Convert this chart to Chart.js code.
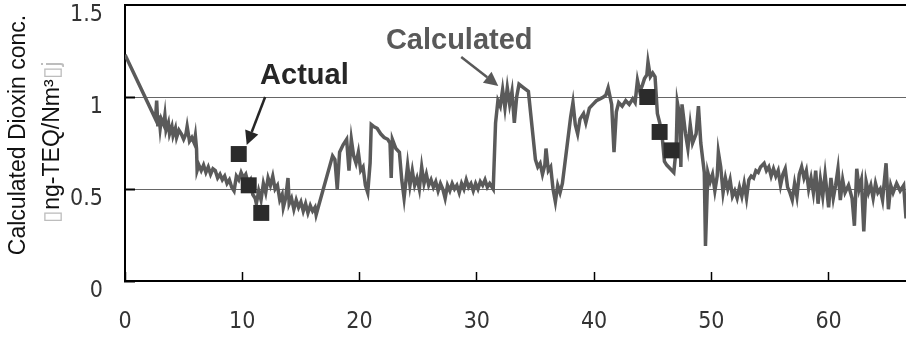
<!DOCTYPE html>
<html>
<head>
<meta charset="utf-8">
<script src="https://cdn.jsdelivr.net/npm/chart.js@4/dist/chart.umd.min.js"></script>
<style>
  html, body { margin: 0; background: #fff; }
  #chart { display: block; }
</style>
</head>
<body>
<canvas id="chart" width="906" height="337"></canvas>
<script>
"use strict";
const $ = id => document.getElementById(id);

/* ---------- data ---------- */
const hours = [
  0, 2.6, 2.7, 2.8, 2.9, 3.0, 3.1, 3.3, 3.4, 3.5,
  3.7, 3.8, 4.0, 4.1, 4.3, 4.4, 4.6, 4.8, 5.0, 5.2,
  5.3, 5.5, 5.7, 5.9, 6.0, 6.1, 6.15, 6.3, 6.5, 6.7,
  6.9, 7.1, 7.3, 7.5, 7.7, 7.9, 8.1, 8.3, 8.5, 8.7,
  8.9, 9.1, 9.3, 9.5, 9.7, 9.9, 10.1, 10.3, 10.5, 10.7,
  10.9, 11.1, 11.2, 11.4, 11.6, 11.8, 12.0, 12.2, 12.4, 12.6,
  12.8, 13.0, 13.2, 13.4, 13.5, 13.7, 13.9, 14.0, 14.2, 14.4,
  14.6, 14.8, 15.0, 15.2, 15.4, 15.6, 15.8, 16.0, 16.2, 16.3,
  17.7, 17.9, 18.1, 18.3, 18.6, 18.9, 19.1, 19.3, 19.5, 19.7,
  19.9, 20.1, 20.3, 20.5, 20.7, 20.9, 21.0, 21.2, 21.5, 21.8,
  22.1, 22.4, 22.6, 22.7, 22.8, 23.1, 23.4, 23.6, 23.8, 24.1,
  24.3, 24.5, 24.7, 24.9, 25.1, 25.3, 25.5, 25.7, 25.9, 26.1,
  26.3, 26.5, 26.7, 26.9, 27.1, 27.3, 27.5, 27.7, 27.9, 28.1,
  28.3, 28.5, 28.7, 28.9, 29.1, 29.3, 29.5, 29.7, 29.9, 30.1,
  30.3, 30.5, 30.7, 30.9, 31.1, 31.4, 31.6, 31.8, 32.0, 32.2,
  32.4, 32.6, 32.8, 33.0, 33.2, 33.4, 33.6, 34.0, 34.4, 35.0,
  35.2, 35.4, 35.6, 35.8, 35.9, 36.1, 36.3, 36.5, 36.7, 36.9,
  37.1, 37.3, 38.0, 38.2, 38.4, 38.6, 38.8, 39.1, 39.3, 39.6,
  39.9, 40.2, 40.5, 40.8, 41.0, 41.2, 41.5, 41.7, 41.9, 42.1,
  42.4, 42.7, 43.0, 43.3, 43.5, 43.7, 43.9, 44.1, 44.3, 44.5,
  44.6, 44.8, 45.0, 45.2, 45.4, 45.6, 45.8, 46.0, 46.2, 46.5,
  46.8, 47.0, 47.1, 47.3, 47.4, 47.5, 47.8, 48.0, 48.2, 48.4,
  48.7, 48.9, 49.1, 49.4, 49.5, 49.7, 49.9, 50.1, 50.3, 50.5,
  50.6, 50.8, 51.0, 51.2, 51.4, 51.6, 51.8, 52.0, 52.2, 52.4,
  52.6, 52.8, 53.0, 53.2, 53.4, 53.6, 53.8, 54.0, 54.2, 54.5,
  54.7, 54.9, 55.1, 55.3, 55.5, 55.7, 55.9, 56.1, 56.3, 56.5,
  56.7, 56.9, 57.1, 57.3, 57.5, 57.7, 57.9, 58.1, 58.3, 58.5,
  58.7, 58.9, 59.1, 59.3, 59.5, 59.7, 60.0, 60.2, 60.4, 60.6,
  60.8, 61.0, 61.2, 61.4, 61.7, 62.0, 62.2, 62.4, 62.6, 62.8,
  63.0, 63.2, 63.4, 63.6, 63.8, 64.0, 64.2, 64.4, 64.6, 64.9,
  65.1, 65.3, 65.5, 65.8, 66.1, 66.4, 66.6
];
const calculated = [
  1.23, 0.88, 0.98, 0.84, 0.90, 0.83, 0.88, 0.85, 0.90, 0.82,
  0.86, 0.80, 0.84, 0.79, 0.83, 0.78, 0.82, 0.80, 0.77, 0.80,
  0.84, 0.76, 0.78, 0.75, 0.79, 0.72, 0.60, 0.63, 0.60, 0.63,
  0.59, 0.62, 0.58, 0.61, 0.60, 0.56, 0.58, 0.55, 0.57, 0.53,
  0.55, 0.51, 0.49, 0.57, 0.55, 0.59, 0.56, 0.58, 0.53, 0.55,
  0.47, 0.45, 0.42, 0.49, 0.44, 0.53, 0.48, 0.56, 0.52, 0.57,
  0.50, 0.52, 0.44, 0.47, 0.40, 0.45, 0.56, 0.42, 0.45, 0.39,
  0.44, 0.40, 0.43, 0.38, 0.42, 0.37, 0.41, 0.38, 0.40, 0.36,
  0.68, 0.66, 0.50, 0.70, 0.74, 0.77, 0.60, 0.77, 0.68, 0.64,
  0.70, 0.60, 0.62, 0.52, 0.48, 0.64, 0.85, 0.84, 0.83, 0.80,
  0.78, 0.77, 0.75, 0.56, 0.77, 0.72, 0.70, 0.55, 0.45, 0.63,
  0.52, 0.60, 0.52, 0.56, 0.50, 0.62, 0.53, 0.58, 0.52, 0.55,
  0.51, 0.54, 0.49, 0.53, 0.50, 0.45, 0.52, 0.49, 0.53, 0.50,
  0.52, 0.48, 0.53, 0.50, 0.55, 0.51, 0.53, 0.49, 0.53, 0.50,
  0.54, 0.52, 0.55, 0.51, 0.53, 0.50, 0.86, 0.98, 0.95, 1.04,
  0.94, 1.05, 0.96, 1.03, 0.86, 1.00, 1.07, 1.05, 1.03, 0.66,
  0.62, 0.64, 0.58, 0.63, 0.72, 0.60, 0.62, 0.50, 0.43, 0.52,
  0.48, 0.53, 0.89, 0.97, 0.85, 0.80, 0.88, 0.91, 0.86, 0.94,
  0.96, 0.98, 0.99, 1.00, 1.01, 1.05, 0.96, 0.70, 0.92, 0.97,
  0.95, 0.98, 0.96, 0.99, 0.97, 1.09, 1.03, 1.06, 1.10, 1.12,
  1.19, 1.11, 1.13, 1.11, 0.91, 0.86, 0.79, 0.65, 0.63, 0.61,
  0.59, 0.72, 0.97, 0.90, 0.62, 0.96, 0.80, 0.72, 0.85, 0.75,
  0.80, 0.95, 0.75, 0.59, 0.19, 0.59, 0.54, 0.58, 0.49, 0.57,
  0.70, 0.62, 0.48, 0.56, 0.50, 0.55, 0.46, 0.49, 0.45, 0.51,
  0.46, 0.53, 0.45, 0.55, 0.57, 0.56, 0.60, 0.59, 0.62, 0.64,
  0.60, 0.62, 0.57, 0.61, 0.57, 0.60, 0.52, 0.58, 0.61, 0.51,
  0.48, 0.44, 0.53, 0.46, 0.58, 0.62, 0.56, 0.60, 0.50, 0.56,
  0.48, 0.60, 0.42, 0.55, 0.46, 0.58, 0.40, 0.56, 0.45, 0.52,
  0.61, 0.44, 0.55, 0.48, 0.52, 0.45, 0.30, 0.61, 0.50, 0.55,
  0.27, 0.54, 0.48, 0.52, 0.45, 0.53, 0.48, 0.50, 0.44, 0.64,
  0.39, 0.52, 0.48, 0.53, 0.49, 0.52, 0.34
];
const actualHours = [9.7, 10.55, 11.62, 44.54, 45.59, 46.61];
const actualConc  = [0.69, 0.52, 0.37, 1.0, 0.81, 0.71];
const xTicks = [0, 10, 20, 30, 40, 50, 60];
const yTicks = [0, 0.5, 1, 1.5];

const yTitle1 = "Calculated Dioxin conc.";
const yTitle2 = [["\u25AF", "#bdbdbd"], ["ng-TEQ/Nm", "#111"], ["\u00B3", "#111"], ["\u25AFj", "#bdbdbd"]];

// callouts, in data units
const notes = [
  { text: "Actual",     x: 15.3, y: 1.114, color: "#262626" },
  { text: "Calculated", x: 28.5, y: 1.307, color: "#595959" }
];
const arrows = [
  { from: [11.95, 1.0],   to: [10.38, 0.739], color: "#262626" },
  { from: [28.67, 1.217], to: [31.83, 1.06],  color: "#595959" }
];

const TICK_FONT = { family: "'DejaVu Sans Condensed', 'DejaVu Sans', sans-serif", size: 23 };

/* ---------- plugins ---------- */
const yTitlePlugin = {
  id: "yTitle",
  afterDraw(chart) {
    const ctx = chart.ctx;
    ctx.save();
    ctx.font = "23px 'Liberation Sans', Arial, sans-serif";
    ctx.textBaseline = "alphabetic";
    ctx.textAlign = "left";
    const lines = [
      { x: 25, y: 135, parts: [[yTitle1, "#111"]] },
      { x: 59, y: 142, parts: yTitle2 }
    ];
    for (const ln of lines) {
      const w = ln.parts.reduce((s, p) => s + ctx.measureText(p[0]).width, 0);
      ctx.save();
      ctx.translate(ln.x, ln.y);
      ctx.rotate(-Math.PI / 2);
      let cx = -w / 2;
      for (const [t, c] of ln.parts) {
        ctx.fillStyle = c;
        ctx.fillText(t, cx, 0);
        cx += ctx.measureText(t).width;
      }
      ctx.restore();
    }
    ctx.restore();
  }
};

function drawArrow(ctx, x1, y1, x2, y2, color) {
  const a = Math.atan2(y2 - y1, x2 - x1), L = 14, W = 7;
  const bx = x2 - L * Math.cos(a), by = y2 - L * Math.sin(a);
  ctx.strokeStyle = color; ctx.lineWidth = 2.5;
  ctx.beginPath(); ctx.moveTo(x1, y1); ctx.lineTo(bx, by); ctx.stroke();
  ctx.fillStyle = color;
  ctx.beginPath();
  ctx.moveTo(x2, y2);
  ctx.lineTo(bx + W * Math.sin(a), by - W * Math.cos(a));
  ctx.lineTo(bx - W * Math.sin(a), by + W * Math.cos(a));
  ctx.closePath(); ctx.fill();
}

const calloutPlugin = {
  id: "callouts",
  afterDatasetsDraw(chart) {
    const { ctx, scales: { x, y } } = chart;
    ctx.save();
    ctx.font = "bold 29px 'Liberation Sans', Arial, sans-serif";
    ctx.textAlign = "center";
    ctx.textBaseline = "middle";
    for (const n of notes) {
      ctx.fillStyle = n.color;
      ctx.fillText(n.text, x.getPixelForValue(n.x), y.getPixelForValue(n.y));
    }
    for (const a of arrows) {
      drawArrow(ctx, x.getPixelForValue(a.from[0]), y.getPixelForValue(a.from[1]),
        x.getPixelForValue(a.to[0]), y.getPixelForValue(a.to[1]), a.color);
    }
    ctx.restore();
  }
};

/* ---------- chart ---------- */
new Chart($("chart"), {
  type: "line",
  data: {
    datasets: [
      { label: "Actual", type: "scatter",
        data: actualHours.map((h, i) => ({ x: h, y: actualConc[i] })),
        pointStyle: "rect", pointRadius: 11.3, pointHoverRadius: 11.3,
        backgroundColor: "#2b2b2b", borderColor: "#2b2b2b", borderWidth: 0, showLine: false },
      { label: "Calculated",
        data: hours.map((h, i) => ({ x: h, y: calculated[i] })),
        borderColor: "#5a5a5a", borderWidth: 3.5, pointRadius: 0, tension: 0, fill: false }
    ]
  },
  options: {
    responsive: false, animation: false, parsing: false,
    layout: { autoPadding: false, padding: { top: 5, right: 0, bottom: 0, left: 0 } },
    plugins: { legend: { display: false }, tooltip: { enabled: false } },
    scales: {
      x: {
        type: "linear", min: 0, max: 66.6,
        afterBuildTicks: s => { s.ticks = xTicks.map(v => ({ value: v })); },
        afterFit: s => { s.height = 56; s.paddingLeft = 0; s.paddingRight = 0; },
        border: { color: "#000", width: 2 },
        grid: { drawOnChartArea: false, drawTicks: true, tickLength: -9, tickColor: "#000", tickWidth: 1.5 },
        ticks: { color: "#333", font: TICK_FONT, padding: 36, maxRotation: 0, callback: v => String(v) }
      },
      y: {
        type: "linear", min: 0, max: 1.5,
        afterBuildTicks: s => { s.ticks = yTicks.map(v => ({ value: v })); },
        afterFit: s => { s.width = 125; s.paddingTop = 0; s.paddingBottom = 0; },
        border: { color: "#000", width: 2 },
        grid: {
          color: c => c.tick.value === 1.5 ? "#000" : (c.tick.value === 0 ? "rgba(0,0,0,0)" : "#666"),
          lineWidth: c => c.tick.value === 1.5 ? 2 : 1,
          drawTicks: true, tickLength: -10, tickColor: "#000", tickWidth: 2
        },
        ticks: { color: "#333", font: TICK_FONT, padding: 32, labelOffset: 10, callback: v => String(v) }
      }
    }
  },
  plugins: [yTitlePlugin, calloutPlugin]
});
</script>
</body>
</html>
